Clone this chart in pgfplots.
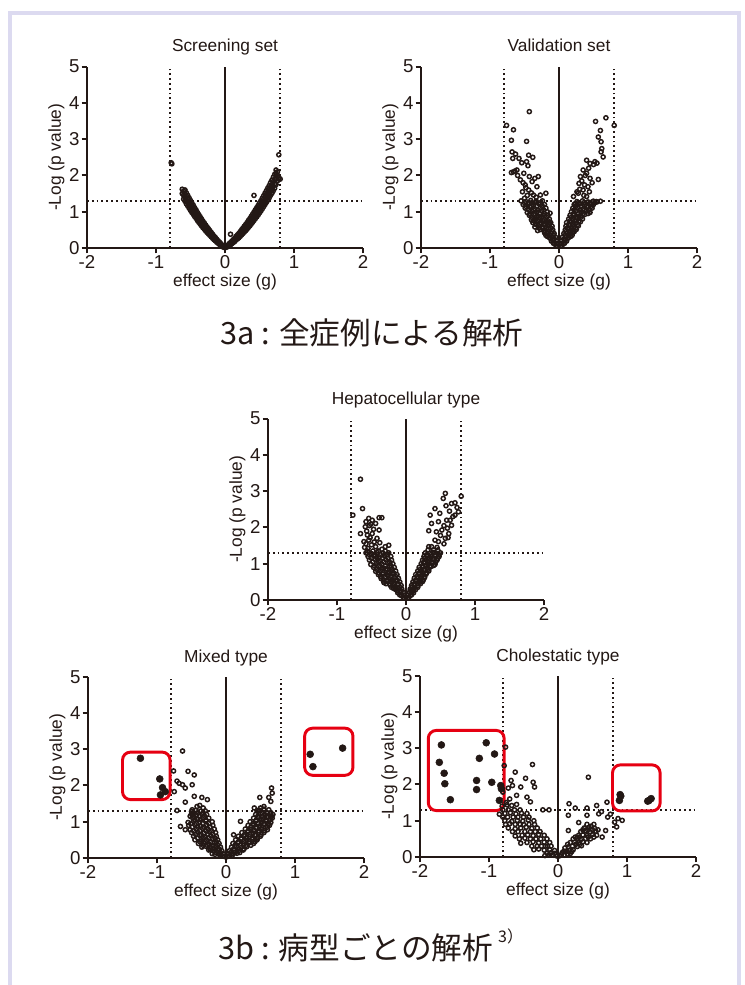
\documentclass[border=0pt]{standalone}
\usepackage{fontspec}
\setmainfont{Liberation Sans}
\newfontfamily\cjk{Noto Sans CJK JP}
\usepackage{pgfplots}
\pgfplotsset{compat=1.18}
\definecolor{ink}{HTML}{231815}
\definecolor{framec}{HTML}{DCDAF0}
\definecolor{boxred}{HTML}{E60012}
\pgfplotsset{volcano/.style={
  scale only axis, width=207pt, height=136pt,
  xmin=-2,xmax=2,ymin=0,ymax=5,
  axis x line=bottom, axis y line=left,
  axis line style={-, line width=2.2pt, draw=ink},
  xtick={-2,-1,0,1,2}, xticklabels={-2,-1,0,1,2},
  ytick={0,1,2,3,4,5}, yticklabels={0,1,2,3,4,5},
  tick align=outside, major tick length=4pt,
  tick style={line width=1.5pt, draw=ink},
  tick label style={font=\fontsize{14}{16}\selectfont, text=ink},
  xticklabel style={inner sep=1.2pt},
  yticklabel style={inner sep=1.5pt},
  xlabel style={font=\fontsize{13}{15}\selectfont, text=ink, at={(axis description cs:0.5,-0.1875)}, anchor=center},
  ylabel style={font=\fontsize{13}{15}\selectfont, text=ink, at={(axis description cs:-0.111,0.5)}, anchor=center},
  title style={font=\fontsize{13}{15}\selectfont, text=ink, anchor=base, yshift=5pt},
  xlabel={effect size (g)},
  ylabel={-Log (p value)},
  clip=false, anchor=south west,
}}
\pgfplotsset{
  omark/.style={only marks, mark=o, mark size=1.55pt, draw=ink, mark options={line width=1.1pt, draw=ink}},
  fmark/.style={only marks, mark=*, mark size=2.6pt, draw=ink, fill=ink, mark options={draw=ink, fill=ink}},
  zline/.style={ink, line width=1.8pt},
  dline/.style={ink, line width=1.4pt, dash pattern=on 1.4pt off 2.2pt},
}
\newcommand\guides{%
  \addplot[zline] coordinates {(0,0) (0,5)};
  \addplot[dline] coordinates {(-0.8,0) (-0.8,5)};
  \addplot[dline] coordinates {(0.8,0) (0.8,5)};
  \addplot[dline] coordinates {(-2,1.3) (2,1.3)};
}
\begin{document}
\begin{tikzpicture}
\path[use as bounding box, fill=white] (0,0) rectangle (558pt,738.75pt);
\draw[framec, line width=3pt] (7.5pt,-2pt) -- (7.5pt,729pt) -- (554.25pt,729pt) -- (554.25pt,-2pt);

% ---------- Screening set
\begin{axis}[volcano, at={(65.25pt,552.75pt)}, title={Screening set}]
\guides
\addplot[omark] coordinates {
(-0.02,0.02)(-0.02,0.04)(-0.04,0.04)(-0.04,0.06)(-0.04,0.08)(-0.06,0.07)(-0.06,0.09)(-0.06,0.10)(-0.06,0.12)
(-0.08,0.10)(-0.08,0.12)(-0.08,0.14)(-0.08,0.16)(-0.10,0.13)(-0.10,0.15)(-0.10,0.18)(-0.10,0.20)
(-0.12,0.16)(-0.12,0.19)(-0.12,0.22)(-0.12,0.24)(-0.14,0.20)(-0.14,0.23)(-0.14,0.26)(-0.14,0.29)
(-0.16,0.23)(-0.16,0.27)(-0.16,0.30)(-0.16,0.33)(-0.18,0.27)(-0.18,0.31)(-0.18,0.34)(-0.18,0.38)
(-0.20,0.31)(-0.20,0.35)(-0.20,0.39)(-0.20,0.43)(-0.22,0.35)(-0.22,0.39)(-0.22,0.43)(-0.22,0.48)
(-0.24,0.39)(-0.24,0.44)(-0.24,0.48)(-0.24,0.53)(-0.26,0.43)(-0.26,0.48)(-0.26,0.53)(-0.26,0.58)
(-0.28,0.47)(-0.28,0.53)(-0.28,0.58)(-0.28,0.63)(-0.30,0.52)(-0.30,0.58)(-0.30,0.63)(-0.30,0.69)
(-0.32,0.56)(-0.32,0.62)(-0.32,0.68)(-0.32,0.74)(-0.34,0.61)(-0.34,0.68)(-0.34,0.74)(-0.34,0.80)
(-0.36,0.66)(-0.36,0.73)(-0.36,0.79)(-0.36,0.86)(-0.38,0.71)(-0.38,0.78)(-0.38,0.85)(-0.38,0.92)
(-0.40,0.76)(-0.40,0.84)(-0.40,0.91)(-0.40,0.98)(-0.42,0.82)(-0.42,0.89)(-0.42,0.97)(-0.42,1.05)
(-0.44,0.87)(-0.44,0.95)(-0.44,1.03)(-0.44,1.11)(-0.46,0.93)(-0.46,1.01)(-0.46,1.09)(-0.46,1.18)
(-0.48,0.98)(-0.48,1.07)(-0.48,1.16)(-0.48,1.24)(-0.50,1.04)(-0.50,1.13)(-0.50,1.22)(-0.50,1.31)
(-0.52,1.10)(-0.52,1.19)(-0.52,1.29)(-0.52,1.38)(-0.54,1.16)(-0.54,1.26)(-0.54,1.35)(-0.54,1.45)
(-0.56,1.22)(-0.56,1.32)(-0.56,1.42)(-0.56,1.52)(-0.58,1.29)(-0.58,1.39)(-0.58,1.49)(-0.58,1.60)
(-0.60,1.35)(-0.60,1.46)(-0.60,1.57)(-0.62,1.50)(-0.62,1.62)(-0.78,2.35)(-0.77,2.32)
(0.02,0.02)(0.02,0.04)(0.04,0.04)(0.04,0.06)(0.04,0.08)(0.06,0.07)(0.06,0.08)(0.06,0.10)(0.06,0.12)
(0.08,0.09)(0.08,0.11)(0.08,0.13)(0.08,0.15)(0.08,0.38)(0.10,0.12)(0.10,0.14)(0.10,0.17)(0.10,0.19)
(0.12,0.15)(0.12,0.18)(0.12,0.20)(0.12,0.23)(0.14,0.18)(0.14,0.21)(0.14,0.24)(0.14,0.27)
(0.16,0.22)(0.16,0.25)(0.16,0.28)(0.16,0.32)(0.18,0.25)(0.18,0.29)(0.18,0.32)(0.18,0.36)
(0.20,0.28)(0.20,0.32)(0.20,0.36)(0.20,0.40)(0.22,0.32)(0.22,0.36)(0.22,0.41)(0.22,0.45)
(0.24,0.36)(0.24,0.41)(0.24,0.45)(0.24,0.50)(0.26,0.40)(0.26,0.45)(0.26,0.50)(0.26,0.55)
(0.28,0.44)(0.28,0.49)(0.28,0.54)(0.28,0.60)(0.30,0.48)(0.30,0.54)(0.30,0.59)(0.30,0.65)
(0.32,0.52)(0.32,0.58)(0.32,0.64)(0.32,0.70)(0.34,0.57)(0.34,0.63)(0.34,0.69)(0.34,0.76)
(0.36,0.61)(0.36,0.68)(0.36,0.74)(0.36,0.81)(0.38,0.66)(0.38,0.73)(0.38,0.80)(0.38,0.87)
(0.40,0.71)(0.40,0.78)(0.40,0.85)(0.40,0.93)(0.42,0.76)(0.42,0.83)(0.42,0.91)(0.42,0.99)(0.42,1.45)
(0.44,0.81)(0.44,0.89)(0.44,0.97)(0.44,1.05)(0.46,0.86)(0.46,0.94)(0.46,1.03)(0.46,1.11)
(0.48,0.91)(0.48,1.00)(0.48,1.09)(0.48,1.17)(0.50,0.97)(0.50,1.06)(0.50,1.15)(0.50,1.24)
(0.52,1.02)(0.52,1.11)(0.52,1.21)(0.52,1.30)(0.54,1.08)(0.54,1.17)(0.54,1.27)(0.54,1.37)
(0.56,1.14)(0.56,1.24)(0.56,1.34)(0.56,1.44)(0.58,1.20)(0.58,1.30)(0.58,1.40)(0.58,1.51)
(0.60,1.26)(0.60,1.36)(0.60,1.47)(0.60,1.58)(0.62,1.32)(0.62,1.43)(0.62,1.54)(0.62,1.65)
(0.64,1.38)(0.64,1.49)(0.64,1.61)(0.64,1.72)(0.66,1.45)(0.66,1.56)(0.66,1.68)(0.66,1.80)
(0.68,1.51)(0.68,1.63)(0.68,1.75)(0.68,1.87)(0.70,1.58)(0.70,1.70)(0.70,1.83)(0.70,1.95)
(0.72,1.65)(0.72,1.77)(0.72,1.90)(0.72,2.03)(0.74,1.75)(0.74,1.90)(0.74,2.06)(0.74,2.15)
(0.76,1.85)(0.76,2.00)(0.76,2.10)(0.78,2.57)(0.78,1.95)(0.78,1.90)(0.80,1.90)
};
\end{axis}

% ---------- Validation set
\begin{axis}[volcano, at={(315.75pt,552.75pt)}, title={Validation set}]
\guides
\addplot[omark] coordinates {
(-0.76,3.38)(-0.43,3.76)(-0.66,3.26)(-0.69,2.97)(-0.47,2.94)(-0.68,2.65)(-0.63,2.59)(-0.67,2.47)(-0.58,2.47)(-0.44,2.56)
(-0.38,2.50)(-0.47,2.38)(-0.45,2.27)(-0.54,2.35)(-0.61,2.15)(-0.66,2.10)(-0.51,2.06)(-0.43,1.97)(-0.35,1.92)(-0.30,1.97)
(-0.39,1.83)(-0.49,1.74)(-0.32,1.69)(-0.44,1.60)(-0.19,1.51)(-0.50,1.37)(-0.37,1.46)(-0.27,1.46)
(-0.64,2.12)(-0.69,2.08)(-0.60,2.00)(-0.56,1.88)(-0.52,1.80)(-0.48,1.66)(-0.40,1.52)(-0.53,1.55)(-0.46,1.45)(-0.33,1.40)
(-0.02,0.05)(-0.04,0.06)(-0.03,0.12)(-0.06,0.11)(-0.08,0.13)(-0.04,0.20)(-0.08,0.21)(-0.11,0.19)(-0.05,0.30)(-0.10,0.31)
(-0.14,0.29)(-0.17,0.32)(-0.07,0.40)(-0.12,0.41)(-0.17,0.39)(-0.21,0.42)(-0.09,0.50)(-0.15,0.52)(-0.21,0.49)(-0.27,0.51)
(-0.31,0.48)(-0.10,0.60)(-0.17,0.62)(-0.24,0.59)(-0.30,0.61)(-0.35,0.58)(-0.12,0.70)(-0.19,0.71)(-0.26,0.69)(-0.33,0.72)
(-0.38,0.70)(-0.14,0.80)(-0.21,0.79)(-0.28,0.82)(-0.35,0.80)(-0.40,0.78)(-0.16,0.90)(-0.23,0.91)(-0.30,0.88)(-0.37,0.92)
(-0.43,0.90)(-0.17,1.00)(-0.25,1.02)(-0.32,0.99)(-0.39,1.01)(-0.46,0.98)(-0.19,1.10)(-0.27,1.11)(-0.35,1.08)(-0.42,1.12)
(-0.49,1.10)(-0.21,1.20)(-0.29,1.21)(-0.37,1.19)(-0.45,1.22)(-0.52,1.20)(-0.24,1.30)(-0.33,1.29)(-0.41,1.31)(-0.48,1.28)
(-0.55,1.30)(-0.13,0.96)(-0.14,0.70)
(-0.07,0.25)(-0.12,0.25)(-0.08,0.35)(-0.13,0.35)(-0.19,0.35)(-0.10,0.45)(-0.16,0.45)(-0.21,0.45)(-0.12,0.55)(-0.18,0.55)
(-0.24,0.55)(-0.29,0.55)(-0.14,0.65)(-0.21,0.65)(-0.28,0.65)(-0.34,0.65)(-0.16,0.75)(-0.23,0.75)(-0.30,0.75)(-0.37,0.75)
(-0.18,0.85)(-0.25,0.85)(-0.33,0.85)(-0.40,0.85)(-0.21,0.95)(-0.28,0.95)(-0.35,0.95)(-0.42,0.95)(-0.22,1.05)(-0.30,1.05)
(-0.37,1.05)(-0.44,1.05)(-0.24,1.15)(-0.32,1.15)(-0.40,1.15)(-0.48,1.15)(-0.27,1.25)(-0.35,1.25)(-0.43,1.25)(-0.50,1.25)
(0.80,3.38)(0.68,3.59)(0.53,3.49)(0.60,3.24)(0.57,3.06)(0.61,2.93)(0.62,2.74)(0.61,2.65)(0.64,2.51)(0.57,1.89)
(0.40,2.42)(0.45,2.33)(0.52,2.38)(0.35,2.15)(0.40,2.06)(0.31,1.97)(0.45,1.92)(0.29,1.78)(0.37,1.74)(0.42,1.69)
(0.35,1.60)(0.28,1.51)(0.40,1.42)(0.21,1.42)(0.24,1.23)(0.54,1.28)(0.49,1.28)(0.45,1.23)
(0.50,2.30)(0.55,2.34)(0.43,2.20)(0.38,2.00)(0.33,1.85)(0.48,1.80)(0.30,1.62)(0.44,1.55)(0.26,1.55)(0.36,1.45)
(0.02,0.05)(0.04,0.06)(0.03,0.12)(0.06,0.11)(0.08,0.13)(0.04,0.20)(0.08,0.21)(0.11,0.19)(0.05,0.30)(0.10,0.31)
(0.14,0.29)(0.17,0.32)(0.07,0.40)(0.12,0.41)(0.17,0.39)(0.20,0.42)(0.09,0.50)(0.14,0.52)(0.20,0.49)(0.25,0.51)
(0.10,0.60)(0.16,0.62)(0.22,0.59)(0.28,0.61)(0.11,0.70)(0.18,0.71)(0.25,0.69)(0.31,0.72)(0.14,0.80)(0.20,0.79)
(0.27,0.82)(0.34,0.80)(0.16,0.90)(0.22,0.91)(0.29,0.88)(0.37,0.92)(0.18,1.00)(0.25,1.02)(0.32,0.99)(0.39,1.01)
(0.45,0.98)(0.20,1.10)(0.27,1.11)(0.35,1.08)(0.42,1.12)(0.48,1.10)(0.22,1.20)(0.30,1.21)(0.37,1.19)(0.44,1.22)
(0.50,1.20)(0.26,1.28)(0.34,1.30)(0.42,1.27)(0.50,1.29)(0.55,1.27)(0.60,1.29)
(0.07,0.25)(0.12,0.25)(0.09,0.35)(0.14,0.35)(0.19,0.35)(0.10,0.45)(0.16,0.45)(0.22,0.45)(0.12,0.55)(0.18,0.55)
(0.24,0.55)(0.14,0.65)(0.20,0.65)(0.27,0.65)(0.16,0.75)(0.23,0.75)(0.29,0.75)(0.18,0.85)(0.25,0.85)(0.32,0.85)
(0.21,0.95)(0.28,0.95)(0.35,0.95)(0.42,0.95)(0.22,1.05)(0.30,1.05)(0.37,1.05)(0.44,1.05)(0.24,1.15)(0.32,1.15)
(0.40,1.15)(0.47,1.15)(0.28,1.25)(0.36,1.25)(0.45,1.25)(0.52,1.25)
};
\end{axis}

% ---------- Hepatocellular type
\begin{axis}[volcano, at={(201pt,288.75pt)}, title={Hepatocellular type}]
\guides
\addplot[omark] coordinates {
(-0.66,3.33)(-0.63,2.52)(-0.77,2.34)(-0.39,2.27)(-0.35,2.27)(-0.54,2.25)(-0.49,2.20)(-0.58,2.16)(-0.59,2.02)(-0.51,2.09)
(-0.44,2.11)(-0.66,1.83)(-0.56,1.79)(-0.49,1.83)(-0.39,1.93)(-0.61,1.61)(-0.54,1.65)(-0.42,1.70)(-0.44,1.47)(-0.30,1.47)
(-0.25,1.51)(-0.53,2.05)(-0.47,1.95)(-0.57,1.90)(-0.52,1.72)(-0.46,1.60)(-0.58,1.55)(-0.50,1.52)(-0.38,1.58)(-0.35,1.40)
(-0.55,1.42)(-0.60,1.45)
(-0.02,0.05)(-0.04,0.07)(-0.03,0.13)(-0.06,0.12)(-0.09,0.14)(-0.04,0.21)(-0.08,0.22)(-0.12,0.20)(-0.06,0.30)(-0.11,0.31)
(-0.15,0.29)(-0.18,0.32)(-0.07,0.40)(-0.12,0.42)(-0.18,0.39)(-0.23,0.41)(-0.09,0.50)(-0.15,0.52)(-0.21,0.49)(-0.27,0.51)
(-0.32,0.48)(-0.11,0.60)(-0.17,0.61)(-0.24,0.59)(-0.30,0.62)(-0.36,0.59)(-0.13,0.70)(-0.20,0.72)(-0.27,0.69)(-0.34,0.71)
(-0.40,0.70)(-0.15,0.80)(-0.22,0.79)(-0.29,0.82)(-0.37,0.80)(-0.44,0.79)(-0.17,0.90)(-0.24,0.91)(-0.32,0.88)(-0.40,0.92)
(-0.47,0.90)(-0.19,1.00)(-0.27,1.02)(-0.35,0.99)(-0.43,1.01)(-0.51,0.98)(-0.21,1.10)(-0.29,1.11)(-0.37,1.08)(-0.45,1.12)
(-0.53,1.10)(-0.22,1.20)(-0.31,1.21)(-0.39,1.19)(-0.47,1.22)(-0.55,1.20)(-0.25,1.30)(-0.33,1.29)(-0.42,1.31)(-0.50,1.28)
(-0.58,1.30)
(-0.07,0.25)(-0.12,0.25)(-0.09,0.35)(-0.15,0.35)(-0.21,0.35)(-0.11,0.45)(-0.17,0.45)(-0.24,0.45)(-0.29,0.45)(-0.13,0.55)
(-0.20,0.55)(-0.27,0.55)(-0.33,0.55)(-0.15,0.65)(-0.22,0.65)(-0.30,0.65)(-0.37,0.65)(-0.18,0.75)(-0.25,0.75)(-0.33,0.75)
(-0.40,0.75)(-0.20,0.85)(-0.27,0.85)(-0.35,0.85)(-0.43,0.85)(-0.22,0.95)(-0.30,0.95)(-0.38,0.95)(-0.46,0.95)(-0.24,1.05)
(-0.32,1.05)(-0.40,1.05)(-0.48,1.05)(-0.26,1.15)(-0.34,1.15)(-0.42,1.15)(-0.50,1.15)(-0.28,1.25)(-0.37,1.25)(-0.45,1.25)
(-0.53,1.25)(-0.30,1.35)(-0.40,1.35)(-0.48,1.35)(-0.56,1.35)
(0.80,2.86)(0.57,2.94)(0.54,2.80)(0.71,2.68)(0.66,2.66)(0.76,2.43)(0.71,2.34)(0.42,2.52)(0.35,2.34)(0.49,2.39)
(0.37,2.11)(0.47,2.16)(0.59,2.20)(0.66,2.06)(0.33,1.91)(0.52,1.93)(0.62,1.83)(0.57,1.70)(0.47,1.61)(0.61,1.72)
(0.37,1.47)(0.33,1.47)(0.63,2.45)(0.68,2.30)(0.55,2.05)(0.60,1.98)(0.44,1.88)(0.50,1.78)(0.42,1.65)(0.55,1.55)
(0.45,1.45)(0.58,2.60)(0.74,2.55)(0.64,2.20)
(0.02,0.05)(0.04,0.07)(0.03,0.13)(0.06,0.12)(0.08,0.14)(0.05,0.21)(0.08,0.22)(0.11,0.20)(0.06,0.30)(0.10,0.31)
(0.14,0.29)(0.08,0.40)(0.12,0.42)(0.17,0.39)(0.10,0.50)(0.15,0.52)(0.20,0.49)(0.24,0.51)(0.12,0.60)(0.17,0.61)
(0.22,0.59)(0.27,0.62)(0.14,0.70)(0.19,0.72)(0.24,0.69)(0.29,0.71)(0.17,0.80)(0.22,0.79)(0.27,0.82)(0.33,0.80)
(0.19,0.90)(0.24,0.91)(0.30,0.88)(0.36,0.92)(0.22,1.00)(0.27,1.02)(0.32,0.99)(0.38,1.01)(0.42,0.98)(0.24,1.10)
(0.29,1.11)(0.34,1.08)(0.40,1.12)(0.45,1.10)(0.26,1.20)(0.31,1.21)(0.37,1.19)(0.43,1.22)(0.48,1.20)(0.28,1.30)
(0.34,1.29)(0.40,1.31)(0.46,1.28)(0.50,1.30)
(0.07,0.25)(0.11,0.25)(0.08,0.35)(0.13,0.35)(0.17,0.35)(0.12,0.45)(0.17,0.45)(0.21,0.45)(0.14,0.55)(0.19,0.55)
(0.25,0.55)(0.16,0.65)(0.21,0.65)(0.27,0.65)(0.19,0.75)(0.24,0.75)(0.30,0.75)(0.21,0.85)(0.27,0.85)(0.33,0.85)
(0.24,0.95)(0.29,0.95)(0.35,0.95)(0.40,0.95)(0.26,1.05)(0.31,1.05)(0.37,1.05)(0.43,1.05)(0.27,1.15)(0.33,1.15)
(0.39,1.15)(0.46,1.15)(0.30,1.25)(0.36,1.25)(0.42,1.25)(0.48,1.25)(0.32,1.38)(0.40,1.38)(0.46,1.38)
};
\end{axis}

% ---------- Mixed type
\begin{axis}[volcano, at={(66pt,95.25pt)}, title={Mixed type}]
\guides
\addplot[omark] coordinates {
(-0.63,2.95)(-0.76,2.40)(-0.55,2.39)(-0.46,2.29)(-0.71,2.12)(-0.68,2.06)(-0.63,2.02)(-0.49,2.02)(-0.59,1.93)(-0.75,1.83)
(-0.46,1.70)(-0.35,1.67)(-0.27,1.61)(-0.59,1.54)(-0.42,1.42)(-0.49,1.33)(-0.71,1.31)(-0.66,0.87)(-0.59,0.78)(-0.38,1.45)
(-0.33,1.38)(-0.52,1.15)
(-0.02,0.04)(-0.05,0.06)(-0.09,0.08)(-0.04,0.12)(-0.10,0.11)(-0.16,0.10)(-0.20,0.12)(-0.06,0.20)(-0.12,0.21)(-0.18,0.19)
(-0.25,0.22)(-0.08,0.30)(-0.15,0.31)(-0.22,0.29)(-0.29,0.32)(-0.35,0.30)(-0.10,0.40)(-0.17,0.42)(-0.25,0.39)(-0.32,0.41)
(-0.40,0.40)(-0.12,0.50)(-0.20,0.52)(-0.28,0.49)(-0.36,0.51)(-0.45,0.50)(-0.14,0.60)(-0.22,0.61)(-0.30,0.59)(-0.38,0.62)
(-0.47,0.60)(-0.15,0.70)(-0.24,0.72)(-0.32,0.69)(-0.41,0.71)(-0.50,0.70)(-0.17,0.80)(-0.26,0.79)(-0.34,0.82)(-0.43,0.80)
(-0.52,0.78)(-0.19,0.90)(-0.28,0.91)(-0.37,0.88)(-0.45,0.92)(-0.54,0.90)(-0.20,1.00)(-0.29,1.02)(-0.38,0.99)(-0.47,1.01)
(-0.55,0.98)(-0.25,1.10)(-0.33,1.11)(-0.41,1.08)(-0.49,1.12)(-0.28,1.20)(-0.35,1.21)(-0.43,1.19)(-0.50,1.22)(-0.30,1.30)
(-0.37,1.29)(-0.44,1.31)(-0.50,1.28)
(-0.08,0.15)(-0.14,0.15)(-0.10,0.25)(-0.17,0.25)(-0.23,0.25)(-0.12,0.35)(-0.19,0.35)(-0.27,0.35)(-0.33,0.35)(-0.14,0.45)
(-0.22,0.45)(-0.30,0.45)(-0.38,0.45)(-0.16,0.55)(-0.25,0.55)(-0.33,0.55)(-0.41,0.55)(-0.19,0.65)(-0.27,0.65)(-0.36,0.65)
(-0.44,0.65)(-0.21,0.75)(-0.29,0.75)(-0.38,0.75)(-0.47,0.75)(-0.23,0.85)(-0.32,0.85)(-0.41,0.85)(-0.49,0.85)(-0.25,0.95)
(-0.34,0.95)(-0.43,0.95)(-0.51,0.95)(-0.29,1.05)(-0.37,1.05)(-0.45,1.05)(-0.31,1.15)(-0.39,1.15)(-0.47,1.15)(-0.33,1.25)
(-0.41,1.25)(-0.47,1.25)
(0.66,1.93)(0.67,1.79)(0.62,1.67)(0.65,1.56)(0.49,1.67)(0.41,1.38)(0.50,1.38)(0.60,1.24)(0.65,1.15)(0.21,1.01)
(0.11,0.64)(0.55,1.42)(0.45,1.30)
(0.02,0.04)(0.05,0.06)(0.09,0.07)(0.04,0.12)(0.10,0.11)(0.16,0.13)(0.05,0.20)(0.12,0.21)(0.18,0.19)(0.25,0.22)
(0.08,0.30)(0.15,0.31)(0.22,0.29)(0.30,0.31)(0.10,0.40)(0.17,0.42)(0.25,0.39)(0.33,0.41)(0.40,0.40)(0.14,0.50)
(0.22,0.52)(0.30,0.49)(0.38,0.51)(0.45,0.50)(0.18,0.60)(0.26,0.61)(0.34,0.59)(0.42,0.62)(0.50,0.60)(0.23,0.70)
(0.31,0.72)(0.39,0.69)(0.47,0.71)(0.55,0.70)(0.28,0.80)(0.36,0.79)(0.44,0.82)(0.52,0.80)(0.60,0.78)(0.32,0.90)
(0.40,0.91)(0.48,0.88)(0.56,0.92)(0.63,0.90)(0.35,1.00)(0.43,1.02)(0.51,0.99)(0.58,1.01)(0.65,0.98)(0.40,1.10)
(0.47,1.11)(0.54,1.08)(0.61,1.12)(0.67,1.10)(0.43,1.20)(0.50,1.21)(0.57,1.19)(0.64,1.22)(0.68,1.20)(0.48,1.32)
(0.55,1.35)(0.62,1.33)
(0.07,0.15)(0.13,0.15)(0.20,0.15)(0.11,0.25)(0.18,0.25)(0.26,0.25)(0.13,0.35)(0.21,0.35)(0.29,0.35)(0.36,0.35)
(0.18,0.45)(0.26,0.45)(0.34,0.45)(0.42,0.45)(0.22,0.55)(0.30,0.55)(0.38,0.55)(0.46,0.55)(0.27,0.65)(0.35,0.65)
(0.43,0.65)(0.51,0.65)(0.32,0.75)(0.40,0.75)(0.48,0.75)(0.56,0.75)(0.36,0.85)(0.44,0.85)(0.52,0.85)(0.60,0.85)
(0.39,0.95)(0.47,0.95)(0.55,0.95)(0.62,0.95)(0.44,1.05)(0.51,1.05)(0.58,1.05)(0.64,1.05)(0.46,1.15)(0.53,1.15)
(0.60,1.15)(0.66,1.15)(0.52,1.25)(0.59,1.25)(0.65,1.25)
};
\addplot[fmark] coordinates {
(-1.24,2.75)(-0.96,2.18)(-0.92,1.94)(-0.95,1.74)(-0.88,1.83)(1.22,2.86)(1.26,2.52)(1.69,3.03)
};
\draw[boxred, line width=2.2pt, rounded corners=6pt] (axis cs:-1.5,1.61) rectangle (axis cs:-0.81,2.92);
\draw[boxred, line width=2.2pt, rounded corners=6pt] (axis cs:1.14,2.28) rectangle (axis cs:1.84,3.58);
\end{axis}

% ---------- Cholestatic type
\begin{axis}[volcano, at={(315pt,96pt)}, title={Cholestatic type}]
\guides
\addplot[omark] coordinates {
(-0.76,3.03)(-0.78,2.52)(-0.37,2.55)(-0.62,2.34)(-0.47,2.17)(-0.68,2.11)(-0.54,1.93)(-0.36,2.06)(-0.34,1.93)(-0.80,1.79)
(-0.66,1.97)(-0.13,1.30)(0.44,2.20)(0.16,1.47)(0.15,1.15)(0.25,1.35)(0.42,1.35)(0.42,1.15)(0.56,1.42)(0.71,1.51)
(0.59,1.19)(0.72,1.10)(0.87,1.06)(0.93,1.01)(0.85,0.83)(0.82,0.96)(0.69,0.73)(0.64,0.55)(0.15,0.73)(-0.72,1.90)
(-0.70,1.60)(-0.60,1.70)(-0.45,1.65)(-0.40,1.52)(-0.75,1.50)(0.30,0.95)(0.52,0.90)(0.76,1.18)(0.63,1.25)(-0.22,1.30)
(-0.02,0.03)(-0.07,0.05)(-0.13,0.06)(-0.19,0.04)(-0.05,0.18)(-0.12,0.20)(-0.20,0.19)(-0.28,0.22)(-0.35,0.20)(-0.12,0.40)
(-0.20,0.41)(-0.28,0.39)(-0.36,0.42)(-0.45,0.40)(-0.54,0.38)(-0.20,0.60)(-0.28,0.62)(-0.36,0.59)(-0.44,0.61)(-0.52,0.60)
(-0.62,0.58)(-0.30,0.80)(-0.38,0.79)(-0.46,0.82)(-0.54,0.80)(-0.62,0.78)(-0.72,0.80)(-0.35,1.00)(-0.43,1.02)(-0.51,0.99)
(-0.59,1.01)(-0.67,0.98)(-0.77,1.00)(-0.45,1.20)(-0.53,1.21)(-0.61,1.19)(-0.69,1.22)(-0.77,1.20)(-0.85,1.18)(-0.60,1.45)
(-0.67,1.42)(-0.74,1.44)(-0.81,1.40)(-0.25,0.50)(-0.40,0.70)(-0.55,0.90)(-0.65,1.10)(-0.30,0.30)(-0.48,0.52)(-0.58,0.70)
(-0.70,0.92)(-0.80,1.10)(-0.10,0.12)(-0.15,0.30)
(-0.05,0.10)(-0.11,0.10)(-0.16,0.10)(-0.10,0.30)(-0.18,0.30)(-0.24,0.30)(-0.38,0.30)(-0.16,0.50)(-0.32,0.50)(-0.40,0.50)
(-0.56,0.50)(-0.26,0.70)(-0.33,0.70)(-0.48,0.70)(-0.66,0.70)(-0.34,0.90)(-0.42,0.90)(-0.50,0.90)(-0.62,0.90)(-0.76,0.90)
(-0.42,1.10)(-0.50,1.10)(-0.58,1.10)(-0.73,1.10)(-0.55,1.30)(-0.63,1.30)(-0.72,1.30)(-0.80,1.30)
(0.02,0.03)(0.05,0.06)(0.09,0.05)(0.14,0.08)(0.18,0.10)(0.06,0.12)(0.10,0.16)(0.16,0.18)(0.22,0.20)(0.10,0.25)
(0.15,0.28)(0.21,0.30)(0.28,0.29)(0.34,0.31)(0.18,0.40)(0.24,0.41)(0.30,0.39)(0.36,0.42)(0.42,0.40)(0.22,0.50)
(0.28,0.52)(0.34,0.49)(0.40,0.51)(0.47,0.50)(0.30,0.60)(0.36,0.61)(0.42,0.59)(0.50,0.62)(0.56,0.60)(0.33,0.70)
(0.40,0.72)(0.47,0.69)(0.55,0.71)(0.38,0.80)(0.45,0.82)(0.53,0.79)(0.42,0.90)(0.48,0.85)
(0.08,0.15)(0.13,0.15)(0.20,0.15)(0.14,0.35)(0.26,0.35)(0.32,0.35)(0.25,0.55)(0.31,0.55)(0.44,0.55)(0.52,0.55)
(0.36,0.75)(0.43,0.75)(0.50,0.75)(0.58,0.75)
};
\addplot[fmark] coordinates {
(-1.69,3.09)(-1.04,3.15)(-1.14,2.72)(-0.92,2.84)(-1.72,2.61)(-1.65,2.31)(-1.64,2.02)(-1.18,2.11)(-0.96,2.06)(-1.18,1.86)
(-1.56,1.58)(-0.85,1.56)(-0.82,1.88)(-0.83,1.97)(0.90,1.72)(0.89,1.56)(1.30,1.54)(1.35,1.61)(1.32,1.56)(0.91,1.68)
};
\draw[boxred, line width=2.2pt, rounded corners=6pt] (axis cs:-1.88,1.28) rectangle (axis cs:-0.78,3.49);
\draw[boxred, line width=2.2pt, rounded corners=6pt] (axis cs:0.79,1.27) rectangle (axis cs:1.48,2.54);
\end{axis}

% ---------- captions
\node[font=\cjk\fontsize{23}{26}\selectfont, text=ink] at (279pt,489pt) {3a : 全症例による解析};
\node[font=\cjk\fontsize{23}{26}\selectfont, text=ink] at (278pt,30pt) {3b : 病型ごとの解析\,\raisebox{0.55em}{\fontsize{12}{14}\selectfont 3）}};
\end{tikzpicture}
\end{document}
